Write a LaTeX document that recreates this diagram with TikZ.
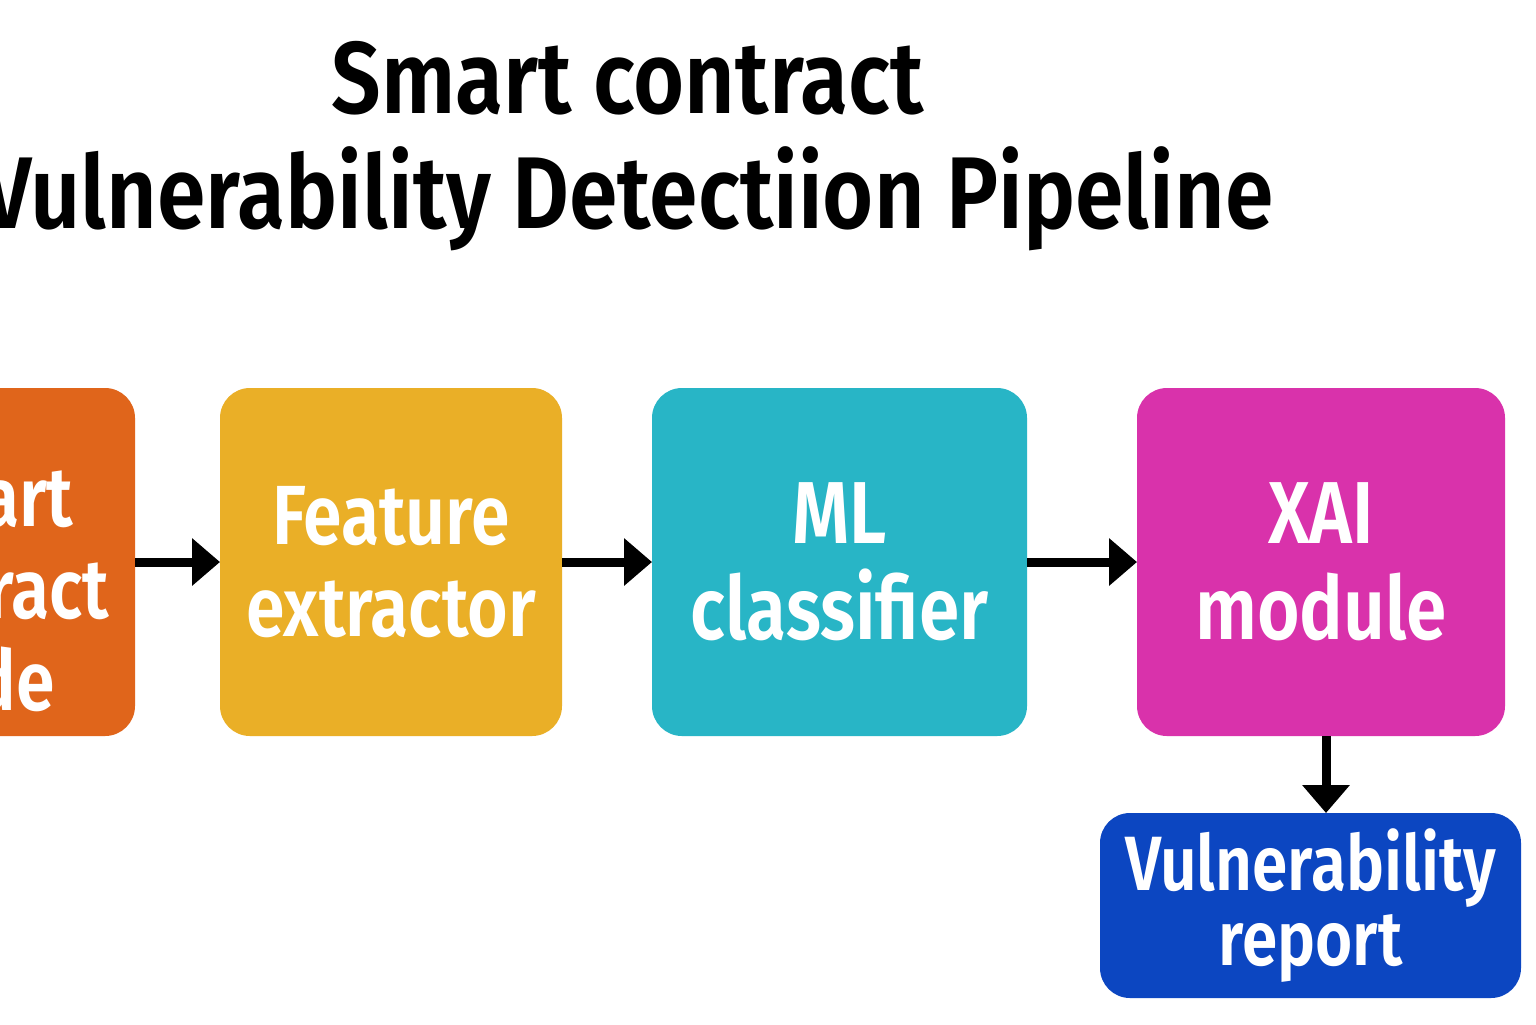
\documentclass[tikz,border=0pt]{standalone}
\usepackage{fontspec}
\setmainfont{Fira Sans}[FakeStretch=0.83]
\newfontfamily\stagefont{Fira Sans SemiBold}[FakeStretch=0.83]
\newfontfamily\headfont{Fira Sans SemiBold}[FakeStretch=0.86]
\usetikzlibrary{positioning,arrows.meta}
\definecolor{codeorange}{RGB}{224,101,27}
\definecolor{featyellow}{RGB}{234,175,39}
\definecolor{mlteal}{RGB}{40,181,198}
\definecolor{xaipink}{RGB}{217,50,171}
\definecolor{reportblue}{RGB}{12,70,193}

\begin{document}
\begin{tikzpicture}[x=0.5pt,y=-0.5pt,
  stage/.style={rounded corners=15pt,text=white,align=center,inner sep=0pt,outer sep=0pt,
    minimum height=174pt,font=\fontsize{42}{46}\stagefont},
  flow/.style={line width=4.5pt,-{Triangle[length=14pt,width=23pt]}}]

  \useasboundingbox[fill=white] (0,0) rectangle (1536,1024);
  \clip (0,0) rectangle (1536,1024);

  \node[font=\fontsize{51}{57.5}\headfont,align=center] (title) at (628,146)
    {Smart contract\\Vulnerability Detectiion Pipeline};

  % pipeline stages
  \node[stage,fill=codeorange,minimum width=157pt] (code) at (-22,562) {};
  \node[stage,fill=none] (codetext) at ([yshift=-13.5pt]code.center) {Smart\\contract\\code};
  \node[stage,fill=featyellow,minimum width=171pt,right=42.5pt of code] (feat) {Feature\\extractor};
  \node[stage,fill=mlteal,minimum width=187.5pt,right=45pt of feat,
    font=\fontsize{44}{48}\stagefont] (ml) {ML\\classifier};
  \node[stage,fill=xaipink,minimum width=184pt,right=55pt of ml,
    font=\fontsize{44}{48}\stagefont] (xai) {XAI\\module};

  \node[stage,fill=reportblue,minimum width=210.5pt,minimum height=92.5pt,
    font=\fontsize{38.5}{37.5}\stagefont,below=38.5pt of xai,xshift=-5.25pt] (report)
    {Vulnerability\\report};

  % arrows between stages
  \draw[flow] (code.east) -- (feat.west);
  \draw[flow] (feat.east) -- (ml.west);
  \draw[flow] (ml.east) -- (xai.west);
  \draw[flow] ([xshift=2.5pt]xai.south) -- ([xshift=2.5pt]xai.south |- report.north);

\end{tikzpicture}
\end{document}
